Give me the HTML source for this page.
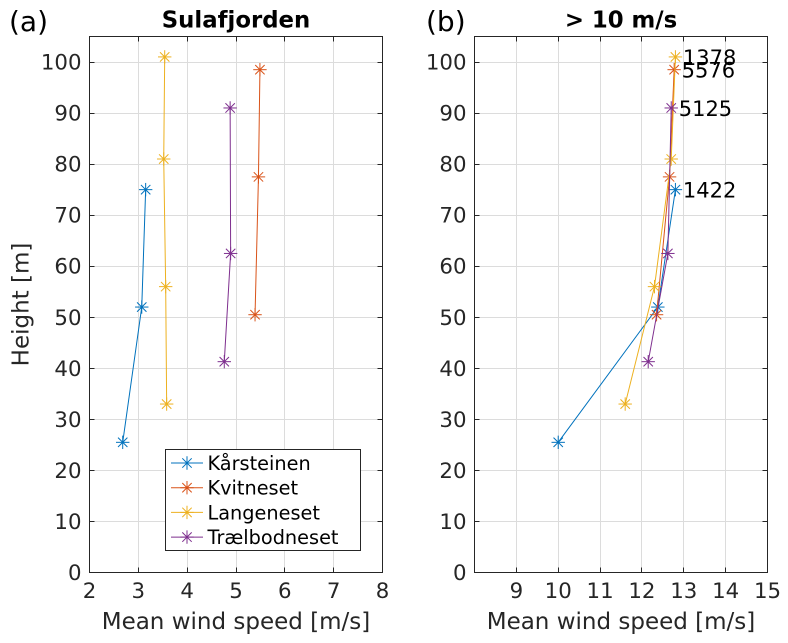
<!DOCTYPE html>
<html>
<head>
<meta charset="utf-8">
<style>
html,body{margin:0;padding:0;background:#fff;}
svg{display:block;font-family:"DejaVu Sans","Liberation Sans",sans-serif;}
</style>
</head>
<body>
<svg id="chart" width="788" height="643" viewBox="0 0 788 643" xmlns="http://www.w3.org/2000/svg"></svg>
<script>
const stations = ['Kårsteinen', 'Kvitneset', 'Langeneset', 'Trælbodneset'];
const heights = [
  [25.5, 52, 75],
  [50.5, 77.5, 98.5],
  [33, 56, 81, 101],
  [41.3, 62.5, 91]
];
const meanSpeedAll = [
  [2.68, 3.07, 3.15],
  [5.39, 5.46, 5.49],
  [3.58, 3.56, 3.52, 3.54],
  [4.76, 4.89, 4.88]
];
const meanSpeedAbove10 = [
  [10.0, 12.38, 12.8],
  [12.35, 12.66, 12.77],
  [11.6, 12.3, 12.7, 12.8],
  [12.15, 12.62, 12.7]
];
const sampleCounts = [1422, 5576, 1378, 5125];
const yTicks = [0, 10, 20, 30, 40, 50, 60, 70, 80, 90, 100];
const xTicksA = [2, 3, 4, 5, 6, 7, 8];
const xTicksB = [9, 10, 11, 12, 13, 14, 15];
const colors = ['#0072bd', '#d95319', '#edb120', '#7e2f8e'];

const NS = 'http://www.w3.org/2000/svg';
const svg = document.getElementById('chart');
function add(parent, tag, attrs, text) {
  const el = document.createElementNS(NS, tag);
  for (const k in attrs) el.setAttribute(k, attrs[k]);
  if (text !== undefined) el.textContent = text;
  parent.appendChild(el);
  return el;
}
function snap(v) {
  return Math.floor(v) + 0.5;
}
function marker(g, cx, cy, color) {
  const r = 6.7, d = 4.7;
  const segs = [[-r, 0, r, 0], [0, -r, 0, r], [-d, -d, d, d], [-d, d, d, -d]];
  segs.forEach(s => add(g, 'line', {x1: cx + s[0], y1: cy + s[1], x2: cx + s[2], y2: cy + s[3], stroke: color, 'stroke-width': 1}));
}
function drawAxes(cfg) {
  const L = cfg.left, R = cfg.right, T = 36.5, B = 572.5;
  const X = v => L + (v - cfg.xMin) / (cfg.xMax - cfg.xMin) * (R - L);
  const Y = v => B - v / 105 * (B - T);
  const ax = add(svg, 'g', {});
  
  
  const grid = add(ax, 'g', {});
  
  
  cfg.xTicks.forEach(v => add(grid, 'line', {x1: snap(X(v)), x2: snap(X(v)), y1: T, y2: B, stroke: '#dcdcdc', 'stroke-width': 1}));
  yTicks.forEach(v => add(grid, 'line', {x1: L, x2: R, y1: snap(Y(v)), y2: snap(Y(v)), stroke: '#dcdcdc', 'stroke-width': 1}));
  const tk = add(ax, 'g', {});
  
  
  cfg.xTicks.forEach(v => {
    add(tk, 'line', {x1: snap(X(v)), x2: snap(X(v)), y1: B, y2: B - 5, stroke: '#262626', 'stroke-width': 1});
    add(tk, 'line', {x1: snap(X(v)), x2: snap(X(v)), y1: T, y2: T + 5, stroke: '#262626', 'stroke-width': 1});
  });
  yTicks.forEach(v => {
    add(tk, 'line', {x1: L, x2: L + 5, y1: snap(Y(v)), y2: snap(Y(v)), stroke: '#262626', 'stroke-width': 1});
    add(tk, 'line', {x1: R, x2: R - 5, y1: snap(Y(v)), y2: snap(Y(v)), stroke: '#262626', 'stroke-width': 1});
  });
  stations.forEach((s, i) => {
    const g = add(ax, 'g', {});
    
    
    const pts = cfg.speeds[i].map((v, j) => X(v) + ',' + Y(heights[i][j])).join(' ');
    add(g, 'polyline', {points: pts, fill: 'none', stroke: colors[i], 'stroke-width': 1});
    cfg.speeds[i].forEach((v, j) => marker(g, X(v), Y(heights[i][j]), colors[i]));
  });
  const box = add(ax, 'rect', {x: L, y: T, width: R - L, height: B - T, fill: 'none', stroke: '#262626', 'stroke-width': 1});
  
  
  cfg.xTicks.forEach(v => {
    const t = add(ax, 'text', {x: X(v), y: 598, 'text-anchor': 'middle', 'font-size': 21.3, fill: '#262626'}, String(v));
    
    
  });
  yTicks.forEach(v => {
    const t = add(ax, 'text', {x: L - 8, y: Y(v) + 7.5, 'text-anchor': 'end', 'font-size': 21.3, fill: '#262626'}, String(v));
    
    
  });
  const xl = add(ax, 'text', {x: (L + R) / 2, y: 629, 'text-anchor': 'middle', 'font-size': 23, fill: '#262626'}, 'Mean wind speed [m/s]');
  
  
  const ti = add(ax, 'text', {x: (L + R) / 2, y: 27.5, 'text-anchor': 'middle', 'font-size': 22.8, 'font-weight': 'bold', fill: '#000'}, cfg.title);
  
  
  const pl = add(ax, 'text', {x: cfg.panelX, y: 31, 'font-size': 28, fill: '#000'}, cfg.panel);
  
  
  return {X, Y};
}
const a = drawAxes({name: 'axes-sulafjorden', left: 89.5, right: 382.5, xMin: 2, xMax: 8, xTicks: xTicksA, speeds: meanSpeedAll, title: 'Sulafjorden', panel: '(a)', panelX: 9});
const b = drawAxes({name: 'axes-above-10ms', left: 474.5, right: 767.5, xMin: 8, xMax: 15, xTicks: xTicksB, speeds: meanSpeedAbove10, title: '> 10 m/s', panel: '(b)', panelX: 426});

stations.forEach((s, i) => {
  const last = heights[i].length - 1;
  const t = add(svg, 'text', {x: b.X(meanSpeedAbove10[i][last]) + 7.5, y: b.Y(heights[i][last]) + 8, 'font-size': 21, fill: '#000'}, String(sampleCounts[i]));
  
  
});

const yt = add(svg, 'text', {transform: 'translate(28.5,304.5) rotate(-90)', 'text-anchor': 'middle', 'font-size': 23, fill: '#262626'}, 'Height [m]');



const leg = add(svg, 'g', {});


add(leg, 'rect', {x: 165.5, y: 449.5, width: 195, height: 101, fill: '#fff', stroke: '#262626', 'stroke-width': 1});
stations.forEach((s, i) => {
  const y = 463 + i * 24.7;
  const g = add(leg, 'g', {});
  
  
  add(g, 'line', {x1: 171, x2: 203, y1: y, y2: y, stroke: colors[i], 'stroke-width': 1});
  marker(g, 187, y, colors[i]);
  add(g, 'text', {x: 207.5, y: y + 7, 'font-size': 19.3, fill: '#000'}, s);
});
</script>
</body>
</html>
